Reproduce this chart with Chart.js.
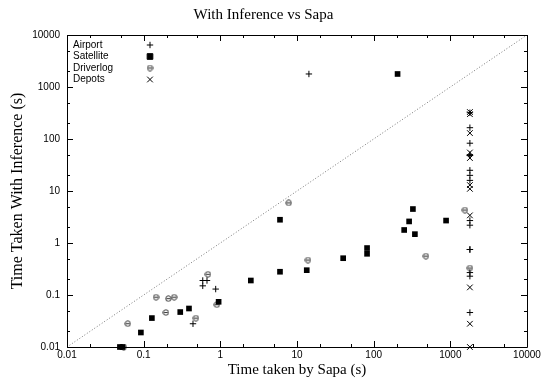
<!DOCTYPE html>
<html>
<head>
<meta charset="utf-8">
<script src="https://cdn.jsdelivr.net/npm/chart.js@4/dist/chart.umd.min.js"></script>
<style>
html, body { margin: 0; padding: 0; background: #fff; }
canvas { display: block; }
</style>
</head>
<body>
<canvas id="chart" width="543" height="381"></canvas>
<script>
// decades used for the ticks on both log axes
const decades = [0.01, 0.1, 1, 10, 100, 1000, 10000];
const tickLabels = ['0.01', '0.1', '1', '10', '100', '1000', '10000'];

// series values (x = Sapa time, y = with inference)
const airportX = [14.3, 0.59, 0.67, 0.59, 0.87, 0.44, 1800, 1800, 1800, 1800, 1800, 1800, 1800, 1800, 1800, 1800, 1800, 1800, 1800, 1800, 1800];
const airportY = [1780, 0.19, 0.19, 0.15, 0.13, 0.028, 320, 165, 83, 50, 48, 25, 20, 16, 2.7, 2.2, 0.75, 0.27, 0.23, 0.046, 0.75];

const satelliteX = [0.049, 0.053, 0.092, 0.128, 0.3, 0.39, 0.95, 2.5, 6, 6, 13.4, 40, 82, 82, 205, 250, 290, 325, 345, 880];
const satelliteY = [0.01, 0.01, 0.019, 0.036, 0.047, 0.055, 0.074, 0.19, 0.28, 2.8, 0.30, 0.51, 0.62, 0.8, 1780, 1.78, 2.6, 4.5, 1.48, 2.7];

const driverlogX = [0.055, 0.062, 0.145, 0.195, 0.21, 0.25, 0.48, 0.69, 0.9, 7.8, 13.9, 480, 1550, 1800];
const driverlogY = [0.01, 0.028, 0.091, 0.046, 0.085, 0.091, 0.036, 0.25, 0.065, 5.9, 0.47, 0.56, 4.3, 0.33];

const depotsX = [1800, 1800, 1800, 1800, 1800, 1800, 1800, 1800, 1800, 1800, 1800];
const depotsY = [330, 300, 130, 55, 43, 13, 11, 3.4, 0.14, 0.028, 0.01];

function pts(xs, ys) {
  return xs.map((x, i) => ({ x: x, y: ys[i] }));
}

// circle with a bar through it, like gnuplot's small point
function thetaPoint() {
  const c = document.createElement('canvas');
  c.width = 7; c.height = 7;
  const g = c.getContext('2d');
  g.strokeStyle = '#333';
  g.lineWidth = 1;
  g.beginPath(); g.arc(3.5, 3.5, 2.7, 0, Math.PI * 2); g.stroke();
  g.beginPath(); g.moveTo(1.5, 3.5); g.lineTo(5.5, 3.5); g.stroke();
  return c;
}
const theta = thetaPoint();

// frame, inward ticks on all four sides and the key in the upper left
const framePlugin = {
  id: 'frame',
  afterDatasetsDraw(chart) {
    const ctx = chart.ctx;
    const a = chart.chartArea;
    const xs = chart.scales.x, ys = chart.scales.y;
    ctx.save();
    ctx.strokeStyle = '#000';
    ctx.lineWidth = 1;
    ctx.beginPath();
    ctx.rect(Math.round(a.left) + 0.5, Math.round(a.top) + 0.5,
             Math.round(a.right - a.left), Math.round(a.bottom - a.top));
    decades.forEach(d => {
      [1, 2, 5].forEach(m => {
        const v = d * m;
        if (v > 10000) return;
        const len = m === 1 ? 6 : 3;
        const px = Math.round(xs.getPixelForValue(v)) + 0.5;
        ctx.moveTo(px, a.bottom); ctx.lineTo(px, a.bottom - len);
        ctx.moveTo(px, a.top); ctx.lineTo(px, a.top + len);
        const py = Math.round(ys.getPixelForValue(v)) + 0.5;
        ctx.moveTo(a.left, py); ctx.lineTo(a.left + len, py);
        ctx.moveTo(a.right, py); ctx.lineTo(a.right - len, py);
      });
    });
    ctx.stroke();

    // key
    ctx.font = '10px "Liberation Sans", Arial, sans-serif';
    ctx.textBaseline = 'middle';
    ctx.textAlign = 'left';
    let row = 0;
    chart.data.datasets.forEach(ds => {
      if (!ds.label) return;
      const y = a.top + 10 + row * 11.5;
      ctx.fillStyle = '#000';
      ctx.fillText(ds.label, a.left + 6, y);
      ctx.fillStyle = ds.pointBackgroundColor || '#000';
      ctx.strokeStyle = ds.pointBorderColor || '#000';
      ctx.lineWidth = ds.pointBorderWidth || 1;
      Chart.helpers.drawPoint(ctx, {
        pointStyle: ds.pointStyle,
        radius: ds.pointRadius,
        borderWidth: ds.pointBorderWidth || 1,
        rotation: 0
      }, a.left + 83, y);
      row++;
    });
    ctx.restore();
  }
};

const logScale = (axis, titleText, titleSize, titlePad) => ({
  type: 'logarithmic',
  min: 0.01,
  max: 10000,
  grid: { display: false, drawTicks: false },
  border: { display: false },
  afterBuildTicks: s => { s.ticks = decades.map(v => ({ value: v })); },
  afterFit: s => {
    if (axis === 'x') s.height = 34; else s.width = 67;
  },
  ticks: {
    autoSkip: false,
    maxRotation: 0,
    padding: axis === 'x' ? 2 : 7,
    color: '#000',
    font: { family: '"Liberation Sans", Arial, sans-serif', size: 10 },
    callback: v => tickLabels[Math.round(Math.log10(v)) + 2]
  },
  title: {
    display: true,
    text: titleText,
    color: '#000',
    font: { family: '"Liberation Serif", "Times New Roman", serif', size: titleSize, weight: 'normal' },
    padding: titlePad
  }
});

new Chart(document.getElementById('chart'), {
  type: 'scatter',
  data: {
    datasets: [
      {
        type: 'line',
        data: [{ x: 0.01, y: 0.01 }, { x: 10000, y: 10000 }],
        borderColor: '#777',
        borderWidth: 1,
        borderDash: [1, 2],
        pointRadius: 0,
        fill: false
      },
      {
        label: 'Airport',
        data: pts(airportX, airportY),
        pointStyle: 'cross',
        pointRadius: 3.2,
        pointBorderWidth: 1,
        pointBorderColor: '#000',
        pointBackgroundColor: '#000',
        clip: 6
      },
      {
        label: 'Satellite',
        data: pts(satelliteX, satelliteY),
        pointStyle: 'rect',
        pointRadius: 4,
        pointBorderWidth: 0,
        pointBorderColor: '#000',
        pointBackgroundColor: '#000',
        clip: 6
      },
      {
        label: 'Driverlog',
        data: pts(driverlogX, driverlogY),
        pointStyle: theta,
        pointRadius: 3.5,
        pointBorderWidth: 1,
        pointBorderColor: '#333',
        pointBackgroundColor: '#333',
        clip: 6
      },
      {
        label: 'Depots',
        data: pts(depotsX, depotsY),
        pointStyle: 'crossRot',
        pointRadius: 4,
        pointBorderWidth: 1,
        pointBorderColor: '#000',
        pointBackgroundColor: '#000',
        clip: 6
      }
    ]
  },
  options: {
    responsive: false,
    animation: false,
    devicePixelRatio: 1,
    layout: { padding: { left: 0, right: 16, top: 0, bottom: 0 } },
    plugins: {
      legend: { display: false },
      tooltip: { enabled: false },
      title: {
        display: true,
        text: 'With Inference vs Sapa',
        color: '#000',
        font: { family: '"Liberation Serif", "Times New Roman", serif', size: 15, weight: 'normal' },
        padding: { top: 6, bottom: 11 }
      }
    },
    scales: {
      x: logScale('x', 'Time taken by Sapa (s)', 15, { top: 0, bottom: 2 }),
      y: logScale('y', 'Time Taken With Inference (s)', 16, { top: 8, bottom: 0 })
    }
  },
  plugins: [framePlugin]
});
</script>
</body>
</html>
